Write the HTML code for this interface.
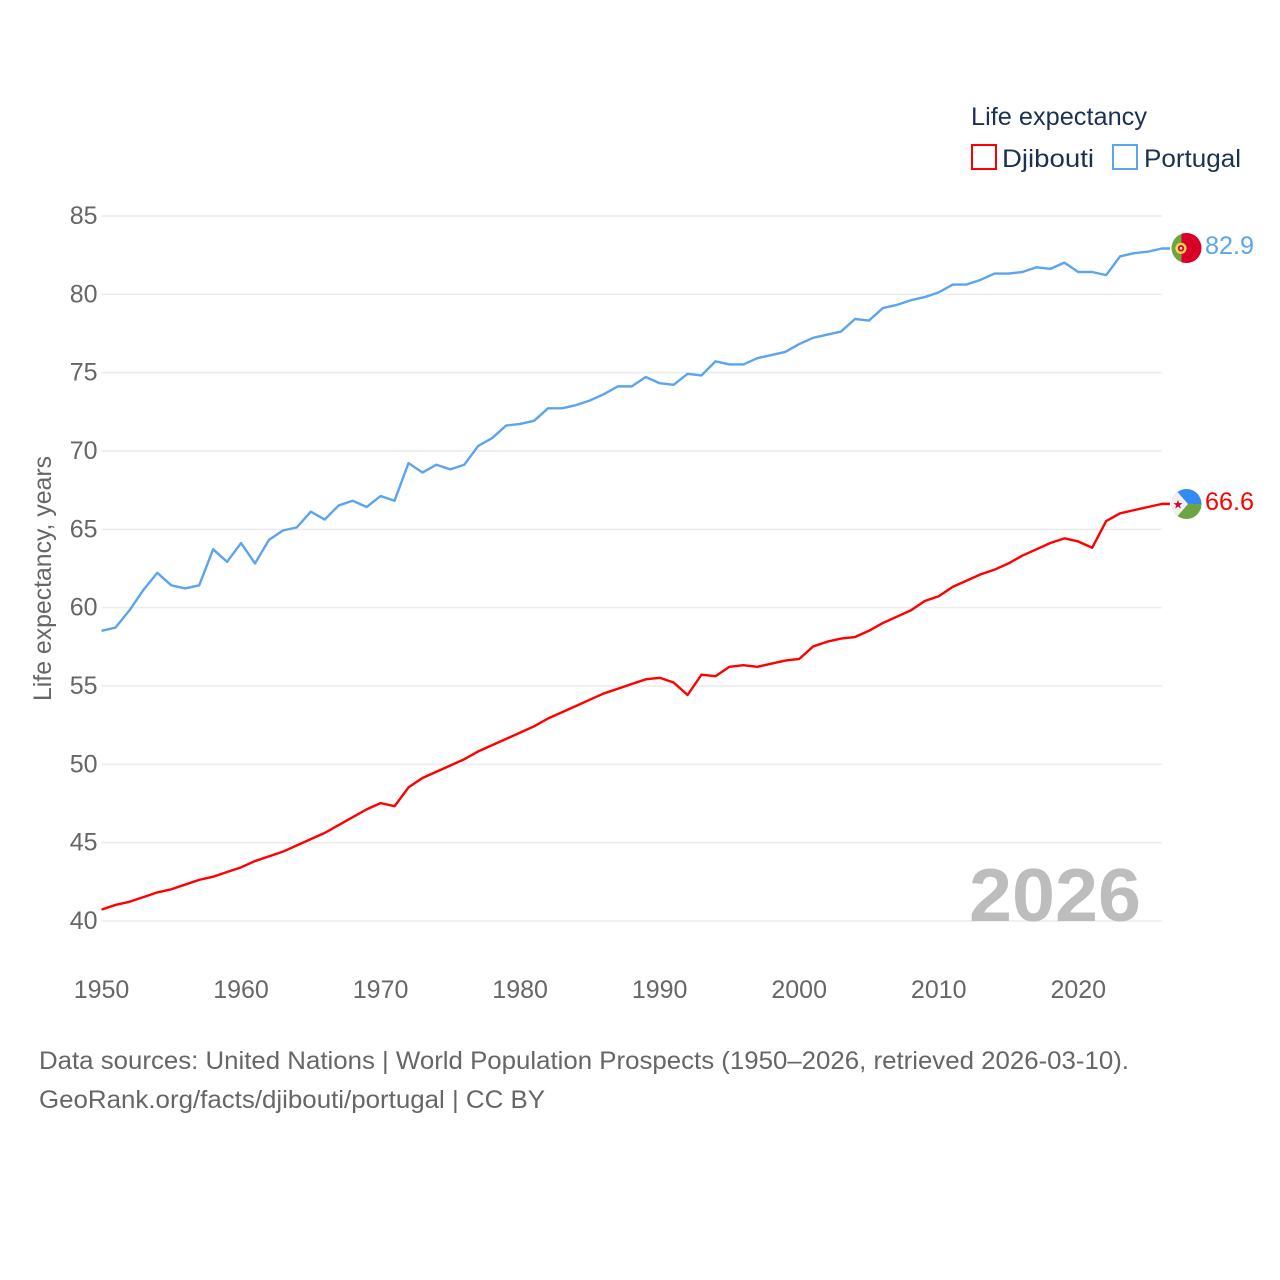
<!DOCTYPE html>
<html>
<head>
<meta charset="utf-8">
<style>
html,body{margin:0;padding:0;background:#fff;}
svg{display:block;font-family:"Liberation Sans",sans-serif;}
</style>
</head>
<body>
<svg id="chart" width="1280" height="1280" viewBox="0 0 1280 1280" xmlns="http://www.w3.org/2000/svg">
  <rect width="1280" height="1280" fill="#fff"/>
  <g id="grid"></g>
  <g id="yticks"></g>
  <g id="xticks"></g>
  <text transform="translate(51,701) rotate(-90)" font-size="25" fill="#666" textLength="245" lengthAdjust="spacingAndGlyphs">Life expectancy, years</text>
  <text x="969" y="921" font-size="75" font-weight="bold" fill="#bdbdbd" textLength="172" lengthAdjust="spacingAndGlyphs">2026</text>
  <g id="series" transform="translate(0,-0.4)"></g>

  <g>
    <clipPath id="clipPt"><circle cx="1186.5" cy="248" r="15"/></clipPath>
    <g clip-path="url(#clipPt)">
      <rect x="1171" y="232" width="12" height="32" fill="#6da544"/>
      <rect x="1181.5" y="232" width="22" height="32" fill="#d80027"/>
      <circle cx="1181" cy="248.3" r="5.6" fill="#ffda44"/>
      <circle cx="1181" cy="248.3" r="3.2" fill="#d80027"/>
      <circle cx="1181" cy="248.3" r="1.4" fill="#f0f0f0"/>
    </g>
  </g>
  <g>
    <clipPath id="clipDj"><circle cx="1186.5" cy="504" r="15"/></clipPath>
    <g clip-path="url(#clipDj)">
      <rect x="1171" y="488" width="32" height="16" fill="#338af3"/>
      <rect x="1171" y="504" width="32" height="16" fill="#6da544"/>
      <polygon points="1171,488 1175,489 1188,504 1175,519 1171,520" fill="#f0f0f0"/>
      <text x="1178" y="508.5" font-size="12" fill="#d80027" text-anchor="middle">★</text>
    </g>
  </g>
  <text id="label-portugal" x="1205" y="254" font-size="25" fill="#5ba4ee" textLength="49" lengthAdjust="spacingAndGlyphs">82.9</text>
  <text id="label-djibouti" x="1205" y="510" font-size="25" fill="#ff0000" textLength="49" lengthAdjust="spacingAndGlyphs">66.6</text>

  <g>
    <text x="971" y="125" font-size="25" fill="#1a3152" textLength="176" lengthAdjust="spacingAndGlyphs">Life expectancy</text>
    <rect x="972" y="145" width="24" height="24" fill="none" stroke="#ff0000" stroke-width="2"/>
    <text x="1002" y="167" font-size="25" fill="#1a3152" textLength="92" lengthAdjust="spacingAndGlyphs">Djibouti</text>
    <rect x="1113" y="145" width="24" height="24" fill="none" stroke="#5ba4ee" stroke-width="2"/>
    <text x="1144" y="167" font-size="25" fill="#1a3152" textLength="97" lengthAdjust="spacingAndGlyphs">Portugal</text>
  </g>

  <text x="39" y="1069" font-size="25" fill="#666" textLength="1090" lengthAdjust="spacingAndGlyphs">Data sources: United Nations | World Population Prospects (1950–2026, retrieved 2026-03-10).</text>
  <text x="39" y="1108" font-size="25" fill="#666" textLength="506" lengthAdjust="spacingAndGlyphs">GeoRank.org/facts/djibouti/portugal | CC BY</text>
</svg>
<script>
const years = [1950,1951,1952,1953,1954,1955,1956,1957,1958,1959,1960,1961,1962,1963,1964,1965,1966,1967,1968,1969,1970,1971,1972,1973,1974,1975,1976,1977,1978,1979,1980,1981,1982,1983,1984,1985,1986,1987,1988,1989,1990,1991,1992,1993,1994,1995,1996,1997,1998,1999,2000,2001,2002,2003,2004,2005,2006,2007,2008,2009,2010,2011,2012,2013,2014,2015,2016,2017,2018,2019,2020,2021,2022,2023,2024,2025,2026];
const portugal = [58.5,58.7,59.8,61.1,62.2,61.4,61.2,61.4,63.7,62.9,64.1,62.8,64.3,64.9,65.1,66.1,65.6,66.5,66.8,66.4,67.1,66.8,69.2,68.6,69.1,68.8,69.1,70.3,70.8,71.6,71.7,71.9,72.7,72.7,72.9,73.2,73.6,74.1,74.1,74.7,74.3,74.2,74.9,74.8,75.7,75.5,75.5,75.9,76.1,76.3,76.8,77.2,77.4,77.6,78.4,78.3,79.1,79.3,79.6,79.8,80.1,80.6,80.6,80.9,81.3,81.3,81.4,81.7,81.6,82.0,81.4,81.4,81.2,82.4,82.6,82.7,82.9];
const djibouti = [40.7,41.0,41.2,41.5,41.8,42.0,42.3,42.6,42.8,43.1,43.4,43.8,44.1,44.4,44.8,45.2,45.6,46.1,46.6,47.1,47.5,47.3,48.5,49.1,49.5,49.9,50.3,50.8,51.2,51.6,52.0,52.4,52.9,53.3,53.7,54.1,54.5,54.8,55.1,55.4,55.5,55.2,54.4,55.7,55.6,56.2,56.3,56.2,56.4,56.6,56.7,57.5,57.8,58.0,58.1,58.5,59.0,59.4,59.8,60.4,60.7,61.3,61.7,62.1,62.4,62.8,63.3,63.7,64.1,64.4,64.2,63.8,65.5,66.0,66.2,66.4,66.6];
const yTickValues = [40,45,50,55,60,65,70,75,80,85];
const xTickValues = [1950,1960,1970,1980,1990,2000,2010,2020];

const NS = 'http://www.w3.org/2000/svg';
const xScale = function (v) { return 101.5 + (v - 1950) * (1162 - 101.5) / 76; };
const yScale = function (v) { return 921 - (v - 40) * (921 - 216) / 45; };

function make(tag, parent) {
  const el = document.createElementNS(NS, tag);
  parent.appendChild(el);
  return el;
}

const gridG = document.getElementById('grid');
const yG = document.getElementById('yticks');
const xG = document.getElementById('xticks');
const seriesG = document.getElementById('series');

yTickValues.forEach(function (v) {
  const line = make('line', gridG);
  
  
  line.setAttribute('x1', 101.5);
  line.setAttribute('x2', 1162);
  line.setAttribute('y1', yScale(v));
  line.setAttribute('y2', yScale(v));
  line.setAttribute('stroke', '#ececec');
  line.setAttribute('stroke-width', '1.5');

  const t = make('text', yG);
  
  
  t.setAttribute('x', 97.5);
  t.setAttribute('y', yScale(v) + 8);
  t.setAttribute('text-anchor', 'end');
  t.setAttribute('font-size', '25');
  t.setAttribute('fill', '#666');
  t.textContent = String(v);
});

xTickValues.forEach(function (v) {
  const t = make('text', xG);
  
  
  t.setAttribute('x', xScale(v));
  t.setAttribute('y', 998);
  t.setAttribute('text-anchor', 'middle');
  t.setAttribute('font-size', '25');
  t.setAttribute('fill', '#666');
  t.textContent = String(v);
});

function drawSeries(values) {
  const pts = values.map(function (v, i) {
    return xScale(years[i]).toFixed(2) + ',' + yScale(v).toFixed(2);
  });
  const last = values[values.length - 1];
  pts.push((xScale(years[years.length - 1]) + 8) + ',' + yScale(last).toFixed(2));
  return pts.join(' ');
}

const portugalLine = make('polyline', seriesG);


portugalLine.setAttribute('points', drawSeries(portugal));
portugalLine.setAttribute('fill', 'none');
portugalLine.setAttribute('stroke', '#5ba4ee');
portugalLine.setAttribute('stroke-width', '2.4');
portugalLine.setAttribute('stroke-linejoin', 'round');

const djiboutiLine = make('polyline', seriesG);


djiboutiLine.setAttribute('points', drawSeries(djibouti));
djiboutiLine.setAttribute('fill', 'none');
djiboutiLine.setAttribute('stroke', '#ff0000');
djiboutiLine.setAttribute('stroke-width', '2.4');
djiboutiLine.setAttribute('stroke-linejoin', 'round');

document.getElementById('label-portugal').textContent = portugal[portugal.length - 1].toFixed(1);
document.getElementById('label-djibouti').textContent = djibouti[djibouti.length - 1].toFixed(1);
</script>
</body>
</html>
